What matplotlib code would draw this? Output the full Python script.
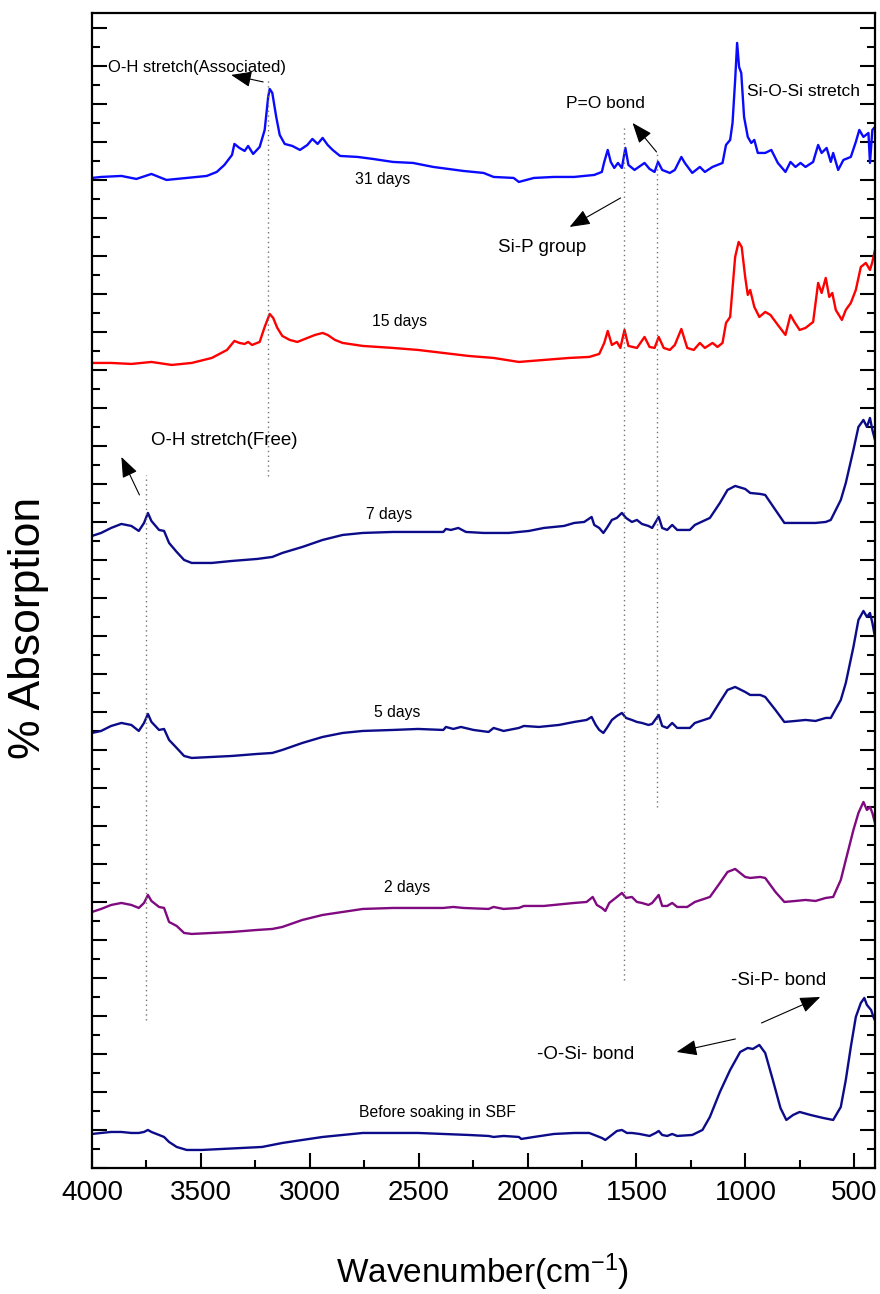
import matplotlib
matplotlib.use("Agg")
import matplotlib.pyplot as plt
from matplotlib.ticker import MultipleLocator, NullFormatter

plt.rcParams['font.family'] = ['Liberation Sans', 'DejaVu Sans']
plt.rcParams['mathtext.default'] = 'regular'

# ---- FTIR spectra (wavenumber in cm^-1, stacked absorption in a.u.) ----
wn_31d = [4000, 3958, 3865, 3796, 3727, 3658, 3565, 3473, 3427, 3392, 3357, 3346, 3323, 3299,
          3283, 3260, 3230, 3207, 3191, 3184, 3172, 3154, 3138, 3115, 3080, 3045, 3011, 2988,
          2964, 2941, 2918, 2895, 2861, 2780, 2710, 2618, 2526, 2433, 2364, 2295, 2202, 2156,
          2064, 2040, 1971, 1879, 1786, 1694, 1659, 1648, 1632, 1618, 1602, 1585, 1567, 1551,
          1537, 1509, 1463, 1440, 1417, 1401, 1382, 1347, 1324, 1294, 1278, 1244, 1209, 1186,
          1151, 1105, 1089, 1070, 1059, 1047, 1038, 1029, 1019, 1006, 989, 973, 959, 943, 909,
          881, 851, 816, 793, 770, 747, 724, 689, 666, 650, 627, 608, 597, 574, 550, 516, 493,
          477, 458, 435, 428, 417, 405]
abs_31d = [990, 991, 992, 989, 994, 988, 990, 992, 996, 1003, 1013, 1024, 1020, 1017,
           1022, 1014, 1021, 1038, 1071, 1079, 1075, 1051, 1033, 1024, 1022, 1018, 1023, 1029,
           1024, 1030, 1023, 1018, 1012, 1011, 1009, 1006, 1005, 1001, 999, 997, 995, 991,
           990, 986, 990, 991, 991, 993, 996, 1006, 1018, 1006, 1000, 1005, 1000, 1020,
           1003, 998, 1005, 999, 996, 1006, 998, 995, 998, 1011, 1005, 995, 1001, 996,
           1001, 1005, 1023, 1028, 1045, 1088, 1125, 1101, 1095, 1051, 1031, 1025, 1028, 1015, 1015,
           1018, 1005, 996, 1006, 1001, 1005, 1001, 1006, 1023, 1015, 1020, 1006, 1015, 998, 1008, 1011, 1026,
           1038, 1031, 1035, 1005, 1038, 1041]

wn_15d = [4000, 3912, 3819, 3727, 3634, 3542, 3450, 3380, 3346, 3323, 3299, 3283, 3265, 3230,
          3207, 3184, 3168, 3149, 3126, 3092, 3057, 3011, 2976, 2941, 2918, 2884, 2849, 2757,
          2687, 2618, 2503, 2387, 2271, 2156, 2040, 1925, 1810, 1717, 1671, 1648, 1632, 1613,
          1590, 1574, 1555, 1537, 1498, 1463, 1440, 1417, 1398, 1375, 1347, 1324, 1294, 1267,
          1237, 1209, 1186, 1151, 1128, 1105, 1089, 1070, 1047, 1031, 1017, 1001, 989, 978, 959,
          936, 909, 885, 851, 816, 793, 775, 751, 724, 689, 666, 650, 631, 615, 601, 585, 557,
          539, 516, 493, 470, 447, 428, 417, 405]
abs_15d = [805, 805, 804, 806, 803, 805, 810, 818, 827, 825, 824, 826, 823, 826,
           841, 854, 850, 840, 832, 828, 826, 830, 833, 835, 833, 828, 825, 822,
           821, 820, 818, 815, 812, 810, 806, 808, 810, 811, 814, 825, 837, 823,
           826, 820, 838, 822, 820, 831, 821, 820, 831, 820, 818, 823, 839, 820,
           818, 825, 820, 825, 821, 825, 845, 851, 911, 926, 921, 891, 873, 878, 861,
           851, 856, 853, 843, 833, 853, 846, 838, 840, 846, 885, 875, 890, 871, 875, 858, 848,
           858, 865, 878, 901, 905, 898, 906, 918]

wn_7d = [4000, 3958, 3912, 3865, 3819, 3785, 3761, 3743, 3727, 3692, 3669, 3646, 3611, 3577,
         3542, 3450, 3357, 3242, 3172, 3126, 3034, 2941, 2849, 2757, 2618, 2503, 2387, 2375,
         2352, 2318, 2283, 2202, 2087, 1994, 1925, 1833, 1786, 1740, 1706, 1694, 1671, 1652,
         1636, 1613, 1590, 1567, 1548, 1521, 1498, 1475, 1445, 1428, 1398, 1382, 1359, 1336,
         1313, 1255, 1232, 1163, 1117, 1082, 1047, 1001, 978, 932, 909, 862, 821, 770, 724,
         678, 631, 608, 562, 539, 504, 481, 458, 442, 428, 417, 405]
abs_7d = [632, 635, 640, 644, 642, 637, 645, 655, 647, 638, 637, 625, 616, 608,
          605, 605, 607, 609, 611, 615, 621, 628, 633, 635, 636, 636, 636, 639,
          638, 640, 636, 635, 635, 637, 640, 642, 645, 646, 651, 643, 640, 635,
          640, 648, 650, 655, 650, 646, 648, 644, 642, 640, 651, 640, 638, 643,
          638, 638, 643, 650, 665, 678, 682, 679, 675, 674, 673, 658, 645, 645, 645,
          645, 646, 648, 668, 685, 718, 741, 748, 741, 750, 738, 728]

wn_5d = [4000, 3958, 3912, 3865, 3819, 3785, 3761, 3743, 3727, 3692, 3669, 3646, 3611, 3577,
         3542, 3450, 3357, 3242, 3172, 3126, 3034, 2941, 2849, 2757, 2618, 2503, 2387, 2375,
         2341, 2306, 2248, 2179, 2156, 2110, 2040, 2017, 1948, 1856, 1786, 1729, 1706, 1687,
         1671, 1652, 1636, 1613, 1590, 1567, 1548, 1521, 1498, 1475, 1445, 1428, 1398, 1382,
         1359, 1336, 1313, 1255, 1232, 1163, 1117, 1082, 1047, 1001, 978, 932, 909, 862, 821,
         770, 724, 678, 631, 608, 562, 539, 504, 481, 458, 442, 428, 417, 405]
abs_5d = [435, 437, 442, 445, 443, 437, 445, 454, 446, 438, 439, 428, 420, 412,
          410, 411, 412, 414, 415, 418, 425, 431, 435, 437, 438, 439, 438, 441,
          439, 441, 438, 436, 440, 437, 440, 442, 441, 443, 446, 448, 451, 443,
          438, 435, 440, 448, 452, 455, 450, 448, 446, 445, 443, 444, 453, 442,
          440, 445, 440, 440, 445, 450, 466, 478, 481, 476, 473, 473, 471, 458, 446,
          447, 448, 447, 450, 450, 468, 485, 521, 548, 557, 551, 555, 545, 531]

wn_2d = [4000, 3958, 3912, 3865, 3819, 3785, 3761, 3743, 3727, 3692, 3669, 3646, 3611, 3577,
         3542, 3450, 3357, 3242, 3172, 3126, 3034, 2941, 2849, 2757, 2618, 2503, 2387, 2341,
         2295, 2179, 2156, 2110, 2040, 2017, 1925, 1833, 1786, 1729, 1701, 1682, 1659, 1643,
         1625, 1590, 1567, 1548, 1521, 1498, 1475, 1445, 1428, 1398, 1382, 1359, 1336, 1313,
         1267, 1232, 1163, 1117, 1082, 1047, 1001, 978, 932, 909, 862, 821, 770, 724, 678,
         631, 597, 562, 539, 504, 481, 458, 442, 428, 417, 405]
abs_2d = [256, 259, 263, 265, 263, 260, 265, 273, 267, 261, 260, 246, 242, 235,
          234, 235, 236, 238, 239, 241, 248, 253, 256, 259, 260, 260, 260, 261,
          260, 259, 261, 259, 260, 262, 262, 264, 265, 266, 271, 263, 260, 257,
          265, 271, 275, 270, 271, 266, 265, 263, 265, 273, 262, 262, 265, 261,
          261, 266, 271, 285, 296, 299, 291, 290, 291, 290, 276, 266, 267, 268, 267,
          270, 271, 288, 308, 338, 355, 366, 358, 361, 355, 345]

wn_0d = [4000, 3958, 3912, 3865, 3819, 3785, 3761, 3743, 3727, 3692, 3669, 3646, 3611, 3565,
         3496, 3403, 3311, 3219, 3126, 3034, 2941, 2849, 2757, 2618, 2503, 2387, 2271, 2179,
         2156, 2110, 2040, 2029, 1971, 1879, 1786, 1717, 1682, 1659, 1643, 1625, 1590, 1567,
         1544, 1521, 1486, 1440, 1412, 1398, 1382, 1359, 1336, 1313, 1244, 1197, 1163, 1117,
         1070, 1024, 989, 966, 936, 909, 874, 839, 812, 781, 751, 701, 643, 597, 562, 539,
         516, 493, 470, 454, 442, 423, 412, 400]
abs_0d = [34, 35, 36, 36, 35, 35, 36, 38, 36, 33, 31, 26, 21, 18,
          18, 19, 20, 21, 25, 28, 31, 33, 35, 35, 35, 34, 33, 32,
          31, 32, 31, 29, 31, 34, 35, 35, 32, 30, 28, 31, 37, 38,
          35, 35, 34, 32, 35, 37, 33, 32, 34, 32, 33, 38, 51, 76,
          98, 116, 120, 119, 123, 115, 88, 60, 48, 53, 56, 53, 50, 48, 61, 88,
          121, 151, 165, 170, 163, 158, 151, 145]

spectra = [
    (wn_31d, abs_31d, '#0a0aff'),
    (wn_15d, abs_15d, '#ff0000'),
    (wn_7d, abs_7d, '#0c0c8a'),
    (wn_5d, abs_5d, '#0c0c8a'),
    (wn_2d, abs_2d, '#800a80'),
    (wn_0d, abs_0d, '#0c0c8a'),
]

fig = plt.figure(figsize=(8.8, 12.94), dpi=100)
ax = fig.add_axes([0.1045, 0.0974, 0.8898, 0.8926])

for wn, ab, col in spectra:
    ax.plot(wn, ab, color=col, lw=1.7, solid_joinstyle='round')

ax.set_xlim(4000, 405)
ax.set_ylim(0, 1155)

# axis styling
for s in ax.spines.values():
    s.set_linewidth(1.6)
ax.xaxis.set_major_locator(MultipleLocator(500))
ax.xaxis.set_minor_locator(MultipleLocator(250))
ax.yaxis.set_major_locator(MultipleLocator(38))
ax.yaxis.set_minor_locator(MultipleLocator(19))
ax.yaxis.set_major_formatter(NullFormatter())
ax.tick_params(axis='both', which='both', direction='in', width=1.5, top=False)
ax.tick_params(axis='y', which='both', left=True, right=True)
ax.tick_params(axis='both', which='major', length=11)
ax.tick_params(axis='both', which='minor', length=6)
ax.tick_params(axis='x', which='major', labelsize=20, pad=9)

# vertical guide lines marking the assigned bands
guide = dict(color='0.45', lw=1.0, ls=(0, (1, 2.5)))
ax.plot([3191, 3191], [692, 1088], **guide)
ax.plot([3750, 3750], [148, 693], **guide)
ax.plot([1559, 1559], [188, 1041], **guide)
ax.plot([1408, 1408], [361, 1016], **guide)

# band assignments
arrow = dict(arrowstyle='-|>,head_length=0.9,head_width=0.35', color='black', lw=0.8,
             mutation_scale=14, shrinkA=0, shrinkB=0)
ax.text(3516, 1100, 'O-H stretch(Associated)', fontsize=12, ha='center', va='center')
ax.annotate('', xy=(3361, 1093), xytext=(3214, 1086), arrowprops=arrow)
ax.text(1642, 1064, 'P=O bond', fontsize=12.5, ha='center', va='center')
ax.annotate('', xy=(1518, 1045), xytext=(1408, 1016), arrowprops=arrow)
ax.text(734, 1076, 'Si-O-Si stretch', fontsize=12.5, ha='center', va='center')
ax.text(1935, 920, 'Si-P group', fontsize=13.5, ha='center', va='center')
ax.annotate('', xy=(1807, 941), xytext=(1573, 970), arrowprops=arrow)
ax.text(3393, 727, 'O-H stretch(Free)', fontsize=13.5, ha='center', va='center')
ax.annotate('', xy=(3865, 711), xytext=(3782, 673), arrowprops=arrow)
ax.text(848, 187, '-Si-P- bond', fontsize=13.5, ha='center', va='center')
ax.annotate('', xy=(656, 171), xytext=(926, 145), arrowprops=arrow)
ax.text(1733, 113, '-O-Si- bond', fontsize=13.5, ha='center', va='center')
ax.annotate('', xy=(1316, 116), xytext=(1046, 129), arrowprops=arrow)

# soaking-time labels
day_labels = [(2664, 988, '31 days'), (2590, 846, '15 days'), (2636, 653, '7 days'),
              (2600, 455, '5 days'), (2554, 280, '2 days'), (2412, 55, 'Before soaking in SBF')]
for x, y, t in day_labels:
    ax.text(x, y, t, fontsize=11.3, ha='center', va='center')

fig.text(0.548, 0.017, 'Wavenumber(cm$^{-1}$)', fontsize=24, ha='center', va='center')
fig.text(0.032, 0.5147, '% Absorption', fontsize=32, rotation=90, ha='center', va='center')

fig.savefig('out.png', dpi=100)
